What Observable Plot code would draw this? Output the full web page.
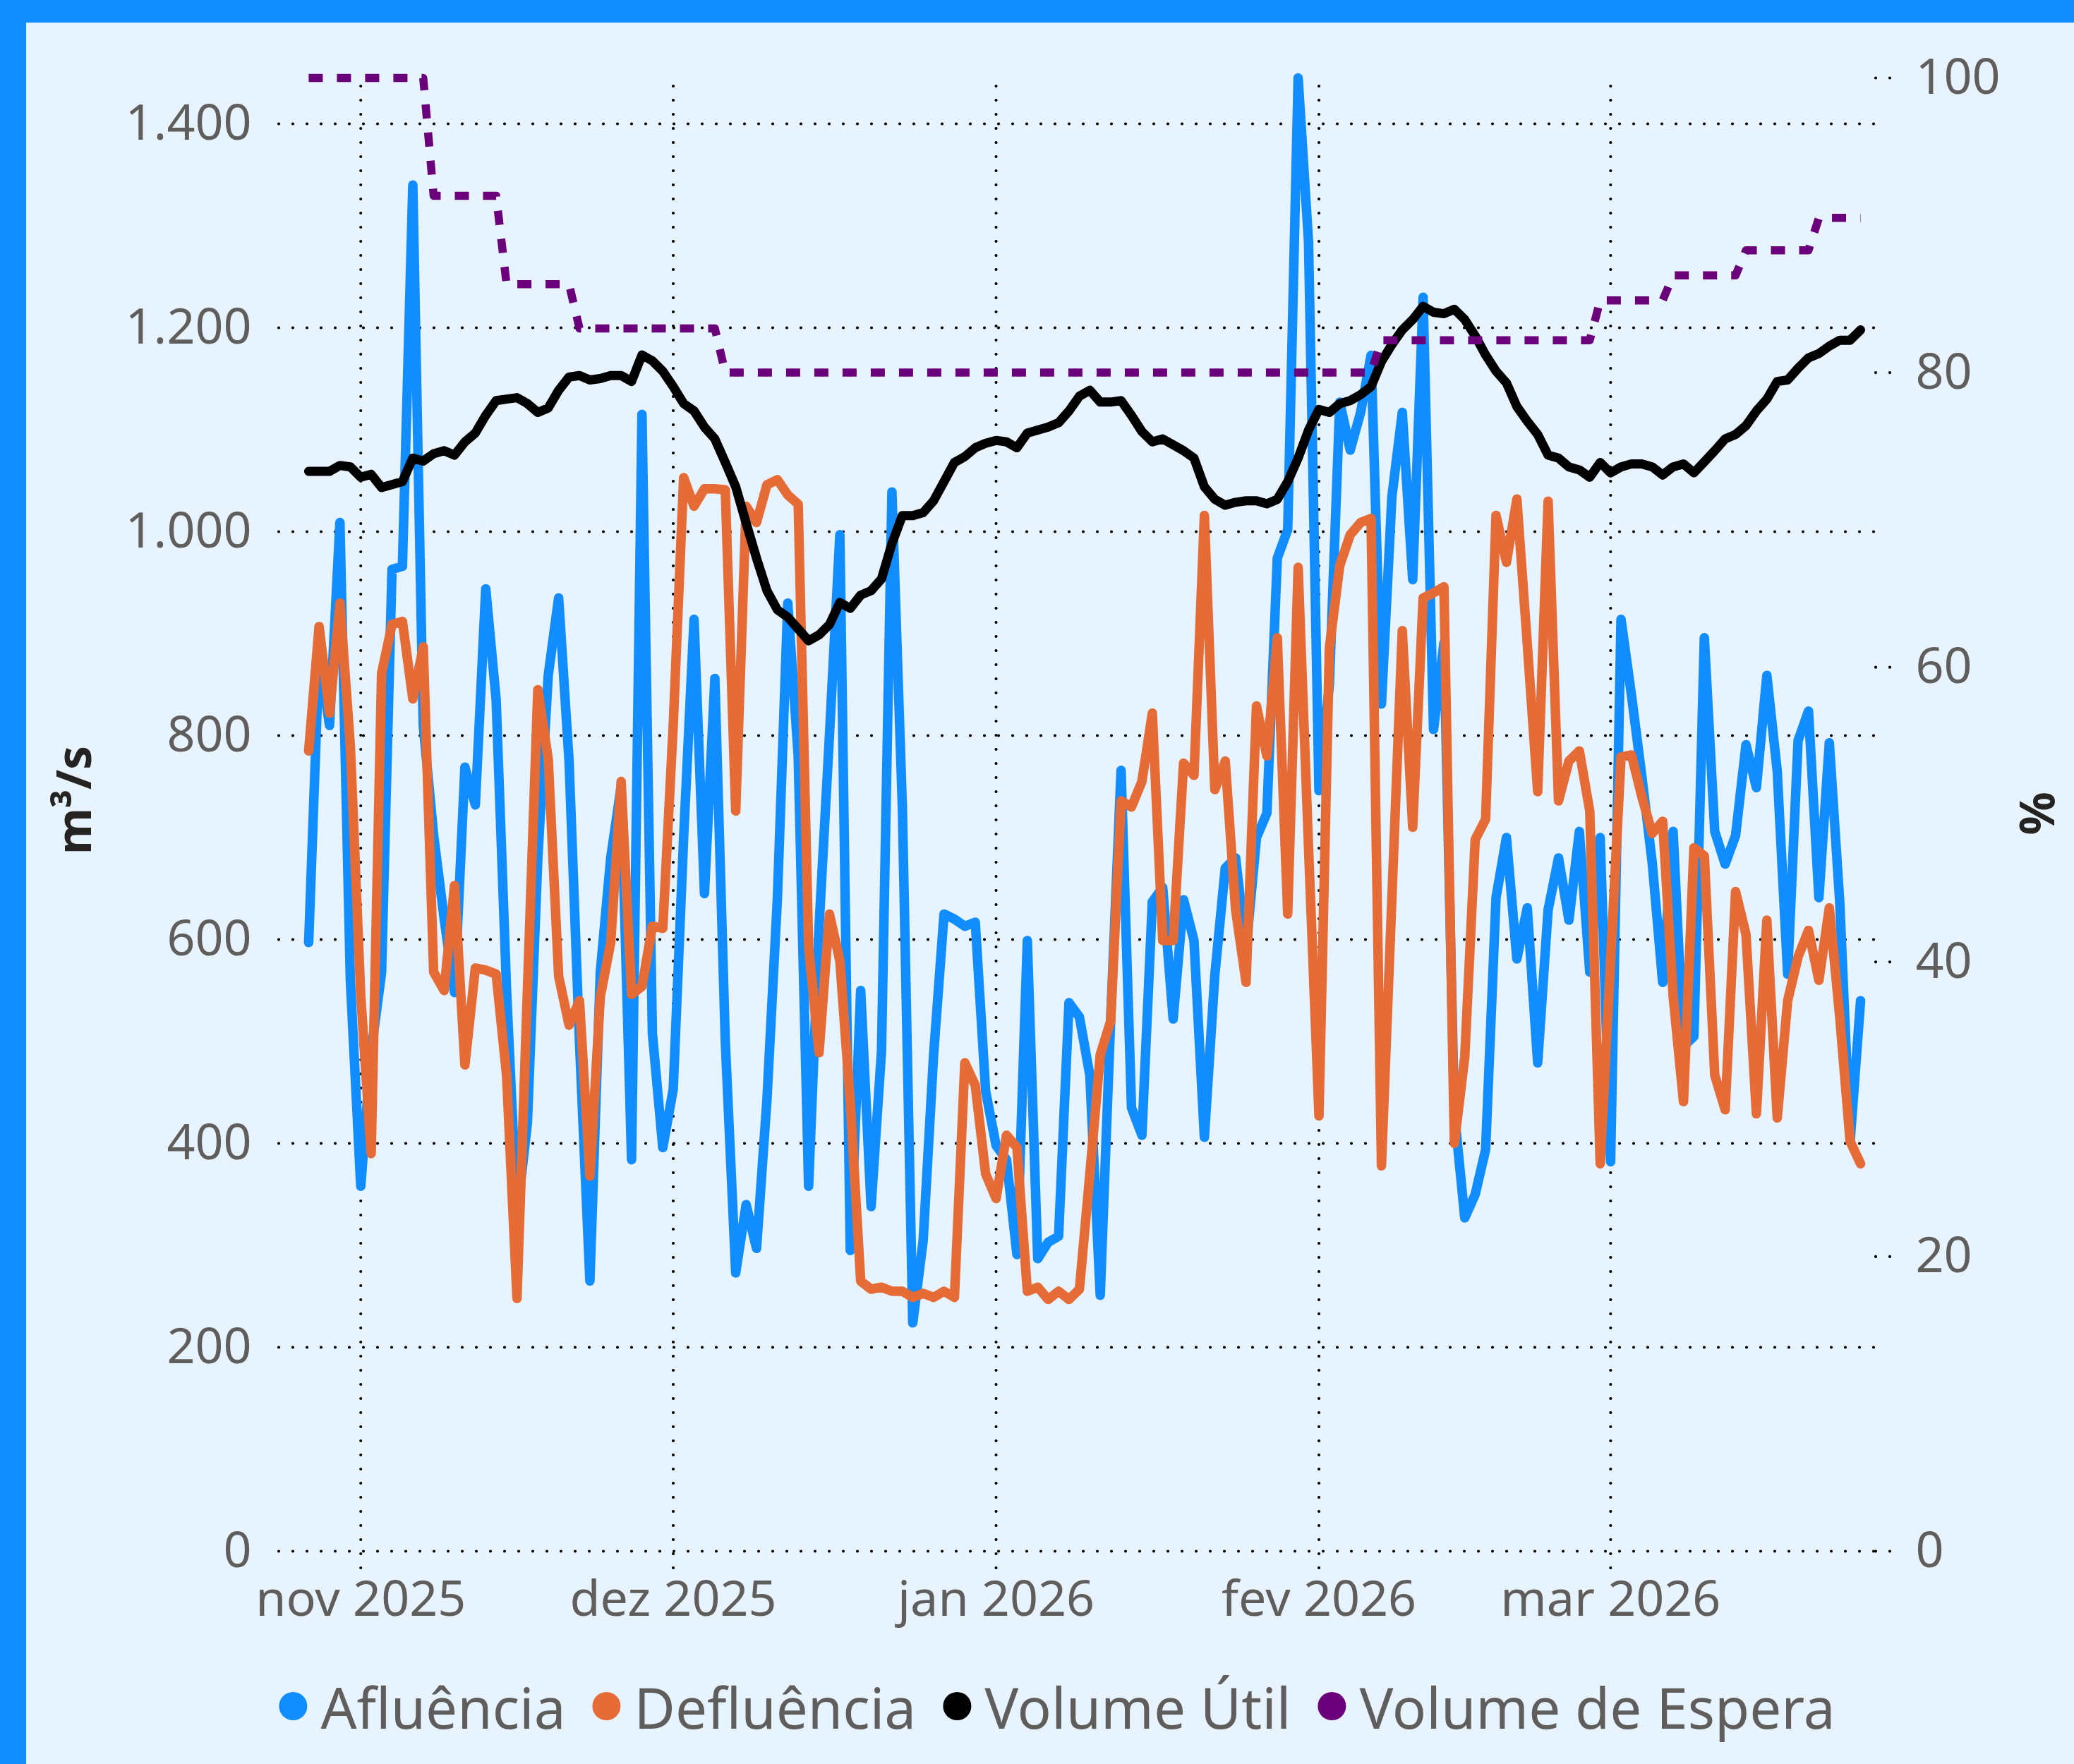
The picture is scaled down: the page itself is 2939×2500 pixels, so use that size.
<!DOCTYPE html>
<html>
<head>
<meta charset="utf-8">
<script src="https://cdn.jsdelivr.net/npm/d3@7"></script>
<script src="https://cdn.jsdelivr.net/npm/@observablehq/plot@0.6"></script>
<style>
html,body{margin:0;padding:0;background:#E7F3FE;}
#wrap{position:relative;width:2939px;height:2500px;background:#E7F3FE;overflow:hidden;font-family:"Noto Sans",sans-serif;}
#topbar{position:absolute;left:0;top:0;width:2939px;height:32px;background:#118DFF;z-index:3;}
#leftbar{position:absolute;left:0;top:0;width:37px;height:2500px;background:#118DFF;z-index:3;}
#chart{position:absolute;left:0;top:0;}
.atitle{position:absolute;font-weight:bold;font-size:68px;color:#252423;white-space:nowrap;line-height:1;}
#legend{position:absolute;top:2368px;left:1498px;transform:translateX(-50%);height:100px;display:flex;align-items:center;white-space:nowrap;}
.item{display:flex;align-items:center;margin-right:38px;font-size:80px;color:#605E5C;}
.item:last-child{margin-right:0;}
.dot{display:inline-block;width:40px;height:40px;border-radius:50%;margin-right:19px;}
</style>
</head>
<body>
<div id="wrap">
  <div id="topbar"></div>
  <div id="leftbar"></div>
  <div id="chart"></div>
  <div class="atitle" style="left:103px;top:1134px;transform:translate(-50%,-50%) rotate(-90deg);">m³/s</div>
  <div class="atitle" style="left:2888px;top:1153px;transform:translate(-50%,-50%) rotate(90deg);">%</div>
  <div id="legend">
    <div class="item"><span class="dot" style="background:#118DFF"></span><span>Afluência</span></div>
    <div class="item"><span class="dot" style="background:#E66C37"></span><span>Defluência</span></div>
    <div class="item"><span class="dot" style="background:#000000"></span><span>Volume Útil</span></div>
    <div class="item"><span class="dot" style="background:#6B007B"></span><span>Volume de Espera</span></div>
  </div>
</div>
<script>
// Daily series from 2025-10-27 to 2026-03-25 (150 days)
const startDate = Date.UTC(2025, 9, 27);
const endDate = Date.UTC(2026, 2, 26); // exclusive

// Afluência (m³/s)
const afluencia = [
  597, 880, 810, 1009, 560,
  358, 490, 568, 963, 966, 1340, 810, 702, 621, 548, 769, 732, 944, 835, 550,
  330, 420, 680, 859, 935, 775, 500, 265, 568, 680, 750, 384, 1115, 508, 396,
  453, 700, 914, 645, 856, 500, 273, 340, 297, 443, 640, 930, 780, 358, 612,
  800, 997, 295, 550, 338, 491, 1039, 730, 224, 305, 487, 625, 620, 613, 617, 451,
  398, 384, 291, 599, 287, 303, 309, 538, 524, 467, 251, 522, 766, 435, 408,
  637, 651, 522, 639, 599, 406, 565, 670, 680, 590, 700, 724, 974, 1002, 1445, 1284,
  746, 850, 1127, 1080, 1117, 1173, 831, 1034, 1117, 953, 1230, 806, 891, 430,
  327, 350, 394, 641, 700, 581, 631, 479, 629, 680, 619, 706, 568, 700,
  382, 914, 840, 760, 675, 558, 706, 495, 505, 896, 706, 674, 702, 791, 749,
  859, 765, 566, 795, 824, 641, 793, 637, 402, 540
];

// Defluência (m³/s)
const defluencia = [
  785, 907, 822, 930, 790,
  545, 390, 861, 909, 912, 836, 887, 568, 550, 653, 477, 572, 570, 566, 467,
  248, 550, 845, 777, 564, 516, 540, 368, 544, 597, 755, 546, 554, 613, 611,
  810, 1053, 1025, 1042, 1042, 1041, 726, 1025, 1009, 1046, 1051, 1036, 1027, 593, 489,
  625, 579, 440, 265, 257, 259, 255, 255, 249, 253, 249, 255, 249, 479, 457, 370,
  346, 408, 396, 255, 259, 247, 255, 247, 257, 370, 487, 520, 736, 730, 755,
  822, 599, 599, 773, 761, 1016, 747, 775, 629, 558, 829, 780, 896, 625, 965, 690,
  427, 886, 967, 997, 1009, 1013, 378, 640, 903, 710, 935, 940, 946, 400,
  485, 698, 718, 1016, 970, 1032, 890, 745, 1030, 736, 775, 785, 726, 380,
  580, 779, 781, 740, 704, 716, 545, 441, 690, 682, 467, 433, 647, 605, 429,
  619, 425, 540, 583, 609, 560, 631, 524, 402, 380
];

// Volume Útil (%)
const volumeUtil = [
  73.3, 73.3, 73.3, 73.7, 73.6,
  72.9, 73.1, 72.2, 72.4, 72.6, 74.2, 74.0, 74.5, 74.7, 74.4, 75.3, 75.9, 77.1, 78.1, 78.2,
  78.3, 77.9, 77.3, 77.6, 78.8, 79.7, 79.8, 79.5, 79.6, 79.8, 79.8, 79.4, 81.2, 80.8, 80.1,
  79.05, 77.9, 77.4, 76.3, 75.5, 73.9, 72.25, 69.8, 67.4, 65.2, 63.9, 63.4, 62.6, 61.8, 62.2,
  62.9, 64.4, 64.0, 64.9, 65.2, 66.0, 68.4, 70.3, 70.3, 70.5, 71.3, 72.6, 73.9, 74.3, 74.9, 75.2,
  75.4, 75.3, 74.9, 75.9, 76.1, 76.3, 76.6, 77.4, 78.4, 78.8, 78.0, 78.0, 78.1, 77.1, 76.0,
  75.3, 75.5, 75.1, 74.7, 74.2, 72.25, 71.4, 71.0, 71.2, 71.3, 71.3, 71.1, 71.4, 72.6, 74.2, 76.1,
  77.5, 77.3, 77.9, 78.1, 78.5, 79.05, 80.75, 81.9, 82.9, 83.6, 84.5, 84.1, 84.0, 84.3,
  83.6, 82.5, 81.2, 80.1, 79.3, 77.7, 76.7, 75.8, 74.4, 74.2, 73.6, 73.4, 72.9, 73.9,
  73.2, 73.6, 73.8, 73.8, 73.6, 73.05, 73.6, 73.8, 73.2, 73.95, 74.7, 75.5, 75.8, 76.4, 77.4,
  78.2, 79.4, 79.5, 80.3, 81.0, 81.3, 81.8, 82.2, 82.2, 82.9
];

// Volume de Espera (%)
const volumeEspera = [
  100, 100, 100, 100, 100,
  100, 100, 100, 100, 100, 100, 100, 92, 92, 92, 92, 92, 92, 92, 86,
  86, 86, 86, 86, 86, 86, 83, 83, 83, 83, 83, 83, 83, 83, 83,
  83, 83, 83, 83, 83, 80, 80, 80, 80, 80, 80, 80, 80, 80, 80,
  80, 80, 80, 80, 80, 80, 80, 80, 80, 80, 80, 80, 80, 80, 80, 80,
  80, 80, 80, 80, 80, 80, 80, 80, 80, 80, 80, 80, 80, 80, 80,
  80, 80, 80, 80, 80, 80, 80, 80, 80, 80, 80, 80, 80, 80, 80, 80,
  80, 80, 80, 80, 80, 80, 82.2, 82.2, 82.2, 82.2, 82.2, 82.2, 82.2, 82.2,
  82.2, 82.2, 82.2, 82.2, 82.2, 82.2, 82.2, 82.2, 82.2, 82.2, 82.2, 82.2, 82.2, 84.9,
  84.9, 84.9, 84.9, 84.9, 84.9, 84.9, 86.6, 86.6, 86.6, 86.6, 86.6, 86.6, 86.6, 88.3, 88.3,
  88.3, 88.3, 88.3, 88.3, 88.3, 90.5, 90.5, 90.5, 90.5, 90.5
];

const leftTicks = [0, 200, 400, 600, 800, 1000, 1200, 1400];
const rightTicks = [0, 20, 40, 60, 80, 100];
const monthTicks = [Date.UTC(2025,10,1), Date.UTC(2025,11,1), Date.UTC(2026,0,1), Date.UTC(2026,1,1), Date.UTC(2026,2,1)].map(t => new Date(t));
const monthLabels = ["nov 2025", "dez 2025", "jan 2026", "fev 2026", "mar 2026"];

const yMax = d3.max(afluencia);          // left axis top (m³/s)
const k = yMax / 100;                     // left units per percent (right axis 0–100)

const dates = d3.utcDay.range(new Date(startDate), new Date(endDate));
const rows = dates.map((date, i) => ({
  date,
  afl: afluencia[i],
  def: defluencia[i],
  vu: volumeUtil[i],
  ve: volumeEspera[i]
}));

const DAY = 86400000;
const fmtThousands = v => String(v).replace(/\B(?=(\d{3})+(?!\d))/g, ".");
const dotted = {stroke: "#000", strokeWidth: 4.2, strokeDasharray: "0,20", strokeLinecap: "round", strokeOpacity: 1};

const chart = Plot.plot({
  width: 2939,
  height: 2328,
  marginLeft: 395,
  marginRight: 282,
  marginTop: 110,
  marginBottom: 130,
  style: {background: "transparent", fontFamily: '"Noto Sans", sans-serif', fontSize: "70px", color: "#605E5C", overflow: "visible"},
  x: {type: "utc", domain: [new Date(startDate - 2.84 * DAY), new Date(endDate - DAY + 1.42 * DAY)]},
  y: {domain: [0, yMax]},
  marks: [
    Plot.gridY(leftTicks, dotted),
    Plot.gridX(monthTicks, {...dotted, y1: -16.6, y2: yMax - 7}),
    Plot.axisY(leftTicks, {anchor: "left", tickSize: 0, tickPadding: 39, tickFormat: fmtThousands, label: null, fill: "#605E5C"}),
    Plot.axisY(rightTicks.map(v => v * k), {anchor: "right", tickSize: 22, tickPadding: 35, tickFormat: v => Math.round(v / k), label: null, fill: "#605E5C", ...dotted}),
    Plot.axisX(monthTicks, {anchor: "bottom", tickSize: 0, tickPadding: 42, tickFormat: (d, i) => monthLabels[i], label: null, fill: "#605E5C"}),
    Plot.lineY(rows, {x: "date", y: "afl", stroke: "#118DFF", strokeWidth: 13.5, strokeLinejoin: "round", strokeLinecap: "round"}),
    Plot.lineY(rows, {x: "date", y: "def", stroke: "#E66C37", strokeWidth: 13.5, strokeLinejoin: "round", strokeLinecap: "round"}),
    Plot.lineY(rows, {x: "date", y: d => d.vu * k, stroke: "#000000", strokeWidth: 13, strokeLinejoin: "round", strokeLinecap: "round"}),
    Plot.lineY(rows, {x: "date", y: d => d.ve * k, stroke: "#6B007B", strokeWidth: 11.5, strokeDasharray: "20,20", strokeLinecap: "butt"})
  ]
});
document.getElementById("chart").appendChild(chart);
</script>
</body>
</html>
